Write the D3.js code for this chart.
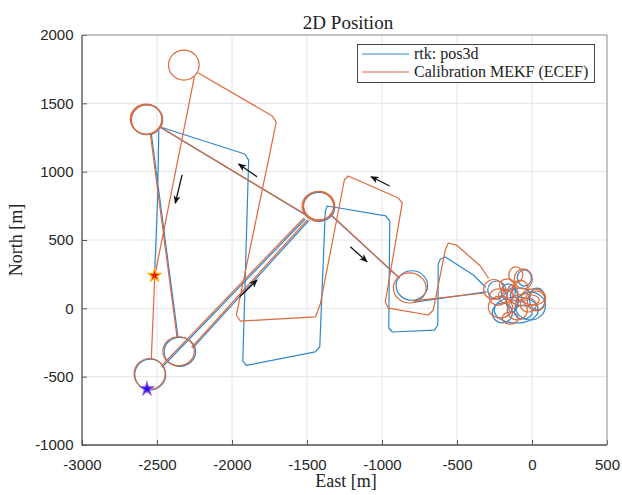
<!DOCTYPE html>
<html>
<head>
<meta charset="utf-8">
<script src="https://cdn.jsdelivr.net/npm/d3@7"></script>
<style>
  body { margin: 0; background: #fff; }
  svg { display: block; }
</style>
</head>
<body>
<svg id="chart" width="622" height="495"></svg>
<script>
// ---- data -------------------------------------------------------------
const xTicks = [-3000, -2500, -2000, -1500, -1000, -500, 0, 500];
const yTicks = [-1000, -500, 0, 500, 1000, 1500, 2000];
const seriesNames = ["rtk: pos3d", "Calibration MEKF (ECEF)"];

// Track vertices [east, north] in metres; null = the track circles a loop (listed below)
const rtkTrack = [
  [-2465, -429], [-1515, 650], null,
  [-1515, 687], [-2471, 1320], null,
  [-2538, 1276], [-2360, -213], null,
  [-2260, -290], [-1491, 639], null,
  [-1338, 679], [-885, 222], null,
  [-785, 46], [-305, 120], null,
  [-311, 156], [-391, 244], [-578, 376], [-611, 361], [-625, 324], [-628, -122],
  [-651, -159], [-931, -173], [-955, -144], [-948, 639], [-975, 676], [-1365, 749],
  [-1378, 712], [-1415, -283], [-1445, -319], [-1905, -418], [-1928, -385],
  [-1889, 1085], [-1915, 1129], [-2478, 1327], null,
  [-2488, 1298], [-2496, 793], [-2516, 251]
];
const mekfTrack = [
  [-2471, -421], [-1522, 659], null,
  [-1523, 695], [-2478, 1327], null,
  [-2545, 1281], [-2367, -208], null,
  [-2267, -283], [-1500, 646], null,
  [-1345, 690], [-891, 229], null,
  [-791, 54], [-317, 112], null,
  [-291, 222], [-344, 310], [-504, 463], [-558, 478], [-578, 427], [-658, -12],
  [-691, -49], [-958, 2], [-978, 46], [-865, 771], [-891, 807], [-1225, 968],
  [-1251, 939], [-1411, 32], [-1444, -63], [-1945, -93], [-1971, -49],
  [-1705, 1363], [-1731, 1407], [-2224, 1722], null,
  [-2251, 1693], [-2515, 237], [-2538, -371]
];

// Loops flown in place: [centre east, centre north, radius east, radius north] in metres
const rtkLoops = [
  [-2545, -484, 103, 113],
  [-2567, 1380, 105, 110],
  [-1420, 742, 105, 106],
  [-2348, -318, 105, 106],
  [-801, 167, 105, 108],
  [-235, 134, 60, 66],
  [-51, 222, 47, 59],
  [-11, 17, 100, 102],
  [-105, -12, 147, 95],
  [-198, -34, 67, 73],
  [35, 68, 53, 80],
  [-131, 61, 40, 88],
  [-78, 98, 67, 51],
  [-158, 120, 47, 59],
  [-58, -27, 60, 51]
];
const mekfLoops = [
  [-2549, -480, 103, 113],
  [-2321, 1780, 102, 110],
  [-2573, 1385, 105, 110],
  [-2568, 1380, 103, 108],
  [-1428, 747, 105, 106],
  [-1420, 752, 103, 104],
  [-2356, -314, 105, 106],
  [-815, 149, 109, 110],
  [-255, 138, 67, 73],
  [-225, 83, 60, 59],
  [-108, 244, 47, 59],
  [-58, 215, 60, 73],
  [9, 83, 80, 59],
  [29, 54, 60, 73],
  [-211, 10, 80, 80],
  [-98, -12, 67, 73],
  [-131, 83, 40, 88],
  [-45, 61, 93, 44],
  [-165, 171, 53, 44],
  [-178, 90, 47, 51],
  [-78, 134, 53, 73],
  [-25, 24, 53, 51],
  [-145, -71, 53, 44]
];

const startPoint = [-2567, -590];
const endPoint = [-2516, 240];

// Direction-of-travel arrows: [from east, from north, to east, to north]
const headingArrows = [
  [-2333, 976, -2378, 769],
  [-1833, 963, -1956, 1056],
  [-949, 895, -1073, 963],
  [-1211, 451, -1100, 341],
  [-1949, 85, -1833, 207]
];

// ---- drawing ----------------------------------------------------------
const blue = "#2f86cd";
const orange = "#de683a";
const svg = d3.select("#chart");
const x = d3.scaleLinear().domain([-3000, 500]).range([82, 607]);
const y = d3.scaleLinear().domain([-1000, 2000]).range([445, 35]);
const [x0, x1] = x.range();
const [yb, yt] = y.range();

const defs = svg.append("defs");
defs.append("clipPath").attr("id", "plotClip")
  .append("rect").attr("x", x0).attr("y", yt).attr("width", x1 - x0).attr("height", yb - yt);
defs.append("marker").attr("id", "head")
  .attr("viewBox", "0 0 10 10").attr("refX", 9).attr("refY", 5)
  .attr("markerWidth", 6.5).attr("markerHeight", 6.5).attr("orient", "auto")
  .append("path").attr("d", "M0,0.8 L10,5 L0,9.2 L2.8,5 Z").attr("fill", "#111");

// grid
const grid = svg.append("g").attr("stroke", "#e4e4e4").attr("stroke-width", 1);
grid.selectAll(".gx").data(xTicks).join("line").attr("class", "gx")
  .attr("x1", d => x(d)).attr("x2", d => x(d)).attr("y1", yb).attr("y2", yt);
grid.selectAll(".gy").data(yTicks).join("line").attr("class", "gy")
  .attr("y1", d => y(d)).attr("y2", d => y(d)).attr("x1", x0).attr("x2", x1);

const plot = svg.append("g").attr("clip-path", "url(#plotClip)");
const trackLine = d3.line().defined(d => d !== null).x(d => x(d[0])).y(d => y(d[1]));

function drawSeries(track, loops, color) {
  const g = plot.append("g").attr("fill", "none").attr("stroke", color)
    .attr("stroke-width", 1.2).attr("stroke-linejoin", "round").attr("stroke-linecap", "round");
  g.append("path").datum(track).attr("d", trackLine);
  g.selectAll("ellipse").data(loops).join("ellipse")
    .attr("cx", d => x(d[0])).attr("cy", d => y(d[1]))
    .attr("rx", d => x(d[0] + d[2]) - x(d[0]))
    .attr("ry", d => y(d[1]) - y(d[1] + d[3]));
}
drawSeries(rtkTrack, rtkLoops, blue);
drawSeries(mekfTrack, mekfLoops, orange);

// start / end markers
const star = d3.symbol(d3.symbolStar, 52);
plot.append("path").attr("d", star)
  .attr("transform", `translate(${x(endPoint[0])},${y(endPoint[1])})`)
  .attr("fill", "#f01010").attr("stroke", "#ffb000").attr("stroke-width", 1.2);
plot.append("path").attr("d", star)
  .attr("transform", `translate(${x(startPoint[0])},${y(startPoint[1])})`)
  .attr("fill", "#2a10f0").attr("stroke", "#8a55e8").attr("stroke-width", 1.2);

// heading arrows
plot.append("g").selectAll("line").data(headingArrows).join("line")
  .attr("x1", d => x(d[0])).attr("y1", d => y(d[1]))
  .attr("x2", d => x(d[2])).attr("y2", d => y(d[3]))
  .attr("stroke", "#111").attr("stroke-width", 1.3)
  .attr("marker-end", "url(#head)");

// axes
const tickFont = "'Liberation Sans', Arial, Helvetica, sans-serif";
const serif = "'Liberation Serif', 'Times New Roman', serif";
const xAxis = svg.append("g").attr("transform", `translate(0,${yb})`)
  .call(d3.axisBottom(x).tickValues(xTicks).tickFormat(d => String(d))
    .tickSizeInner(-5).tickSizeOuter(0).tickPadding(14));
const yAxis = svg.append("g").attr("transform", `translate(${x0},0)`)
  .call(d3.axisLeft(y).tickValues(yTicks).tickFormat(d => String(d))
    .tickSizeInner(-5).tickSizeOuter(0).tickPadding(8.5));
[xAxis, yAxis].forEach(a => {
  a.select(".domain").remove();
  a.selectAll(".tick line").attr("stroke", "#555");
  a.selectAll(".tick text").attr("fill", "#262626")
    .style("font-family", tickFont).style("font-size", "15px");
});

// axes box
svg.append("path").attr("d", `M${x0},${yt}H${x1}V${yb}`)
  .attr("fill", "none").attr("stroke", "#9a9a9a").attr("stroke-width", 1);
svg.append("path").attr("d", `M${x0},${yt}V${yb}H${x1}`)
  .attr("fill", "none").attr("stroke", "#555").attr("stroke-width", 1.3);

// titles
svg.append("text").attr("x", 348).attr("y", 29).attr("text-anchor", "middle")
  .style("font-family", serif).style("font-size", "19px").attr("fill", "#222")
  .text("2D Position");
svg.append("text").attr("x", 346).attr("y", 487).attr("text-anchor", "middle")
  .style("font-family", serif).style("font-size", "18px").attr("fill", "#222")
  .text("East [m]");
svg.append("text").attr("transform", "translate(22,240) rotate(-90)").attr("text-anchor", "middle")
  .style("font-family", serif).style("font-size", "18px").attr("fill", "#222")
  .text("North [m]");

// legend
const legend = svg.append("g");
legend.append("rect").attr("x", 357.5).attr("y", 44.5).attr("width", 237).attr("height", 38)
  .attr("fill", "#fff").attr("stroke", "#444").attr("stroke-width", 1);
const legendRows = legend.selectAll(".row").data(seriesNames).join("g").attr("class", "row")
  .attr("transform", (d, i) => `translate(0,${54 + i * 18})`);
legendRows.append("line").attr("x1", 362).attr("x2", 409).attr("y1", 0).attr("y2", 0)
  .attr("stroke", (d, i) => i === 0 ? blue : orange).attr("stroke-width", 1.2);
legendRows.append("text").attr("x", 414).attr("y", 5)
  .style("font-family", serif).style("font-size", "16px").attr("fill", "#222")
  .text(d => d);
</script>
</body>
</html>
